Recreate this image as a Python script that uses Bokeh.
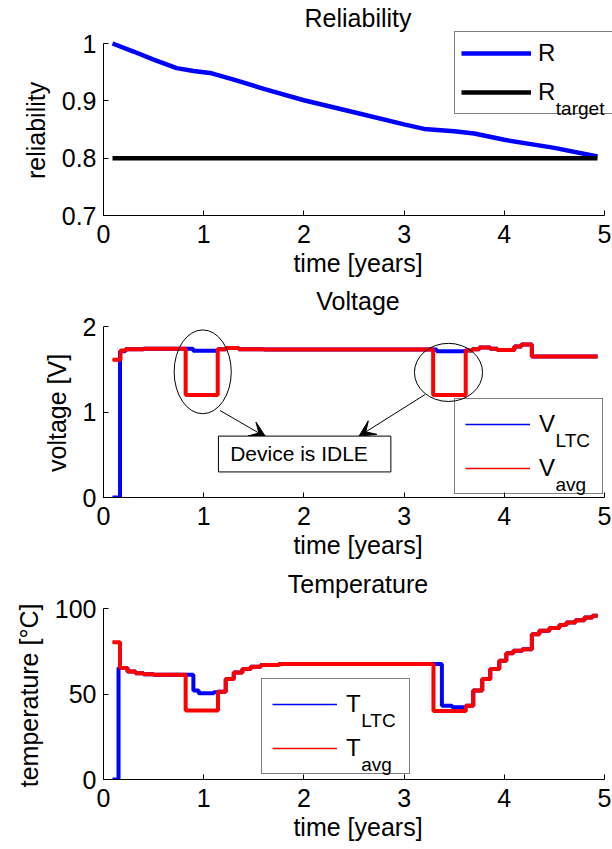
from bokeh.plotting import figure
from bokeh.models import (Range1d, FixedTicker, CustomJSTickFormatter, Legend, LegendItem,
                          Label, BoxAnnotation, Arrow, VeeHead)
from bokeh.layouts import column
from bokeh.embed import file_html
from bokeh.resources import INLINE

FONT = "Liberation Sans"
BLUE = "#0000ff"
RED = "#ff0000"

# ---------------- data ----------------
year_ticks = [0, 1, 2, 3, 4, 5]
year_tick_labels = ["0", "1", "2", "3", "4", "5"]

# Reliability
rel_t = [0.09, 0.3, 0.5, 0.73, 0.9, 1.08, 1.3, 1.6, 2.0, 2.5, 3.0, 3.2, 3.5, 3.7, 4.0, 4.5, 4.93]
rel_R = [1.0, 0.986, 0.972, 0.957, 0.952, 0.948, 0.937, 0.921, 0.901, 0.880, 0.859, 0.851,
         0.847, 0.843, 0.832, 0.818, 0.803]
rel_target_t = [0.09, 4.93]
rel_target = [0.8, 0.8]
rel_ticks = [0.7, 0.8, 0.9, 1.0]
rel_tick_labels = ["0.7", "0.8", "0.9", "1"]

# Voltage (step-after samples)
v_avg_t = [0.09, 0.17, 0.22, 0.40, 0.82, 1.14, 1.22, 1.35, 1.60, 3.29, 3.615, 3.68, 3.75,
           3.86, 3.93, 4.10, 4.17, 4.275, 4.93]
v_avg = [1.61, 1.72, 1.735, 1.74, 1.20, 1.735, 1.75, 1.735, 1.73, 1.20, 1.72, 1.735, 1.755,
         1.74, 1.725, 1.765, 1.79, 1.65, 1.65]
v_ltc_t = [0.09, 0.165, 0.22, 0.40, 0.895, 1.14, 1.22, 1.35, 1.60, 3.325, 3.61, 3.68, 3.75,
           3.86, 3.93, 4.10, 4.17, 4.275, 4.93]
v_ltc = [0.0, 1.71, 1.735, 1.74, 1.715, 1.735, 1.75, 1.735, 1.73, 1.71, 1.72, 1.735, 1.755,
         1.74, 1.725, 1.765, 1.79, 1.65, 1.65]
volt_ticks = [0, 1, 2]
volt_tick_labels = ["0", "1", "2"]

# Temperature (step-after samples)
t_avg_t = [0.09, 0.165, 0.24, 0.32, 0.40, 0.50, 0.82, 1.143, 1.22, 1.30, 1.386, 1.47, 1.57,
           1.75, 3.293, 3.616, 3.69, 3.78, 3.86, 3.95, 4.02, 4.09, 4.18, 4.275, 4.35, 4.45,
           4.55, 4.62, 4.71, 4.80, 4.88, 4.93]
t_avg = [80.2, 65.2, 63.2, 62.1, 61.5, 61.2, 40.3, 51.3, 58.8, 62.6, 64.6, 66.0, 67.0,
         67.5, 40.1, 43.2, 52.0, 58.8, 64.6, 69.5, 73.8, 75.3, 76.2, 85.0, 87.0, 88.6,
         90.3, 91.8, 93.2, 94.7, 95.7, 95.7]
t_ltc_t = [0.09, 0.15, 0.24, 0.32, 0.40, 0.50, 0.897, 0.95, 1.10, 1.143, 1.22, 1.30, 1.386,
           1.47, 1.57, 1.75, 3.377, 3.48, 3.616, 3.69, 3.78, 3.86, 3.95, 4.02, 4.09, 4.18,
           4.275, 4.35, 4.45, 4.55, 4.62, 4.71, 4.80, 4.88, 4.93]
t_ltc = [0.0, 65.2, 63.2, 62.1, 61.5, 61.2, 52.0, 50.5, 51.0, 51.3, 58.8, 62.6, 64.6,
         66.0, 67.0, 67.5, 43.2, 42.2, 43.2, 52.0, 58.8, 64.6, 69.5, 73.8, 75.3, 76.2,
         85.0, 87.0, 88.6, 90.3, 91.8, 93.2, 94.7, 95.7, 95.7]
temp_ticks = [0, 50, 100]
temp_tick_labels = ["0", "50", "100"]

# ---------------- layout constants (pixels) ----------------
LEFT = 103          # frame left edge
AXIS_W = 501        # width of the 0..5 year axis
FRAME_W = 612 - LEFT
BORDER_TOP = 31
NB = "\u00a0\u00a0"  # keeps the rotated y label centred on the tick span


# ---------------- helpers ----------------
def fmt(ticks, labels):
    return CustomJSTickFormatter(args=dict(vals=list(ticks), labels=list(labels)),
                                 code="const i = vals.indexOf(tick); return i >= 0 ? labels[i] : String(tick);")


def make_fig(title, ylabel, ylo, yhi, yticks, ylabels, top_pad, frame_h, bottom):
    x_hi = year_ticks[-1] * FRAME_W / AXIS_W
    y_top = yhi + top_pad * (yhi - ylo) / (frame_h - top_pad)
    p = figure(width=612, height=BORDER_TOP + frame_h + bottom,
               x_range=Range1d(0, x_hi), y_range=Range1d(ylo, y_top),
               output_backend="svg", toolbar_location=None,
               min_border_left=LEFT, min_border_right=0,
               min_border_top=BORDER_TOP, min_border_bottom=bottom)
    p.title.text = title
    p.title.align = "center"
    p.title.text_font = FONT
    p.title.text_font_size = "25px"
    p.title.text_font_style = "normal"
    p.title.text_color = "black"
    p.title.standoff = 0
    p.title.offset = -4
    p.xgrid.visible = False
    p.ygrid.visible = False
    p.outline_line_color = None
    p.background_fill_color = "white"
    p.border_fill_color = "white"

    xa, ya = p.xaxis[0], p.yaxis[0]
    xa.bounds = (year_ticks[0], year_ticks[-1])
    ya.bounds = (ylo, yhi)
    xa.ticker = FixedTicker(ticks=year_ticks)
    xa.formatter = fmt(year_ticks, year_tick_labels)
    ya.ticker = FixedTicker(ticks=yticks)
    ya.formatter = fmt(yticks, ylabels)
    xa.axis_label = "time [years]"
    ya.axis_label = ylabel + NB
    for ax in (xa, ya):
        ax.major_tick_in = 5
        ax.major_tick_out = 0
        ax.minor_tick_in = 0
        ax.minor_tick_out = 0
        ax.axis_line_color = "black"
        ax.major_tick_line_color = "black"
        ax.major_label_text_font = FONT
        ax.major_label_text_font_size = "25px"
        ax.major_label_text_color = "black"
        ax.axis_label_text_font = FONT
        ax.axis_label_text_font_size = "25px"
        ax.axis_label_text_font_style = "normal"
        ax.axis_label_text_color = "black"
    xa.major_label_standoff = 9
    xa.axis_label_standoff = 3
    ya.major_label_standoff = 7
    ya.axis_label_standoff = 9
    return p


def add_legend(p, entries, vx, vy, pad, item_h, spacing, glyph_w, standoff, label_w,
               main_size=24, sub_size=19, sub_drop=15):
    items = [LegendItem(label=main, renderers=[r]) for (main, sub, adv, r) in entries]
    leg = Legend(items=items, location=(vx, vy), orientation="vertical", margin=0,
                 padding=pad, spacing=spacing, glyph_height=item_h, glyph_width=glyph_w,
                 label_height=item_h, label_width=label_w, label_standoff=standoff,
                 border_line_color="black", border_line_width=1,
                 background_fill_color="white", background_fill_alpha=0.0,
                 label_text_font=FONT, label_text_font_size=f"{main_size}px",
                 label_text_line_height=1.0, label_text_color="black")
    p.add_layout(leg, "center")
    H = 2 * pad + len(entries) * item_h + (len(entries) - 1) * spacing
    x_text = vx + pad + glyph_w + standoff
    for i, (main, sub, adv, r) in enumerate(entries):
        if not sub:
            continue
        cy = vy + H - pad - item_h / 2 - i * (item_h + spacing)
        p.add_layout(Label(x=x_text + adv * main_size + 1, y=cy - sub_drop,
                           x_units="screen", y_units="screen", text=sub, level="overlay",
                           text_font=FONT, text_font_size=f"{sub_size}px",
                           text_color="black", text_baseline="alphabetic", text_align="left"))


# ---------------- Reliability ----------------
p1 = make_fig("Reliability", "reliability", 0.7, 1.0, rel_ticks, rel_tick_labels, 12, 184, 68)
r_R = p1.line(rel_t, rel_R, line_color=BLUE, line_width=4.5)
r_T = p1.line(rel_target_t, rel_target, line_color="black", line_width=4.5)
add_legend(p1, [("R", "", 0.722, r_R), ("R", "target", 0.722, r_T)],
           vx=351, vy=101, pad=6, item_h=30, spacing=9, glyph_w=70, standoff=7, label_w=100)

# ---------------- Voltage ----------------
p2 = make_fig("Voltage", "voltage [V]", 0, 2, volt_ticks, volt_tick_labels, 12, 183, 69)
v_ltc_thin = p2.step(v_ltc_t, v_ltc, mode="after", line_color=BLUE, line_width=1.5)
v_avg_thin = p2.step(v_avg_t, v_avg, mode="after", line_color=RED, line_width=1.5)
p2.step(v_ltc_t, v_ltc, mode="after", line_color=BLUE, line_width=4)
p2.step(v_avg_t, v_avg, mode="after", line_color=RED, line_width=4)

# annotation: idle periods
p2.ellipse(x=[0.99, 3.443], y=[1.47, 1.463], width=[0.57, 0.68], height=[0.98, 0.68],
           fill_color=None, line_color="black", line_width=1)
p2.add_layout(Arrow(end=VeeHead(size=16, fill_color="black", line_color="black"),
                    x_start=1.163, y_start=1.017, x_end=1.62, y_end=0.707,
                    line_color="black", line_width=1))
p2.add_layout(Arrow(end=VeeHead(size=16, fill_color="black", line_color="black"),
                    x_start=3.209, y_start=1.204, x_end=2.55, y_end=0.718,
                    line_color="black", line_width=1))
p2.add_layout(BoxAnnotation(left=1.147, right=2.868, bottom=0.299, top=0.718,
                            fill_color="white", fill_alpha=1.0,
                            line_color="black", line_width=1, line_alpha=1.0))
p2.add_layout(Label(x=1.264, y=0.51, text="Device is IDLE", text_font=FONT,
                    text_font_size="21px", text_color="black",
                    text_baseline="middle", text_align="left"))
add_legend(p2, [("V", "LTC", 0.667, v_ltc_thin), ("V", "avg", 0.667, v_avg_thin)],
           vx=351, vy=3, pad=10, item_h=30, spacing=14, glyph_w=65, standoff=9, label_w=53)

# ---------------- Temperature ----------------
p3 = make_fig("Temperature", "temperature [°C]", 0, 100, temp_ticks, temp_tick_labels, 11, 182, 70)
t_ltc_thin = p3.step(t_ltc_t, t_ltc, mode="after", line_color=BLUE, line_width=1.5)
t_avg_thin = p3.step(t_avg_t, t_avg, mode="after", line_color=RED, line_width=1.5)
p3.step(t_ltc_t, t_ltc, mode="after", line_color=BLUE, line_width=4)
p3.step(t_avg_t, t_avg, mode="after", line_color=RED, line_width=4)
add_legend(p3, [("T", "LTC", 0.611, t_ltc_thin), ("T", "avg", 0.611, t_avg_thin)],
           vx=158, vy=5, pad=10, item_h=30, spacing=14, glyph_w=65, standoff=9, label_w=53)

layout = column(p1, p2, p3, spacing=0)
open("out.html", "w").write(file_html(layout, INLINE))
